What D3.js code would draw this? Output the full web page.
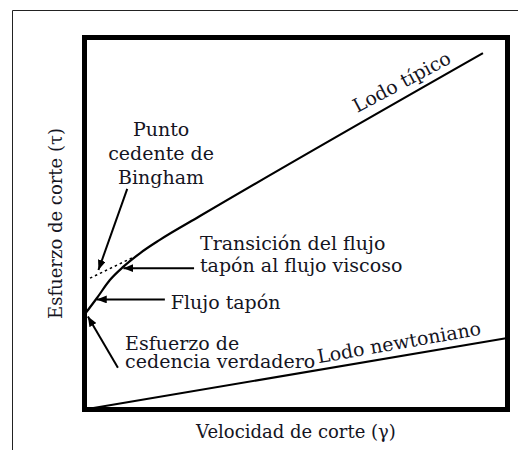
<!DOCTYPE html>
<html>
<head>
<meta charset="utf-8">
<script src="https://cdn.jsdelivr.net/npm/d3@7"></script>
<style>
  body { margin: 0; background: #fff; }
  svg text { font-family: "DejaVu Serif", serif; fill: #15151f; }
</style>
</head>
<body>
<div id="chart-container"></div>
<script>
const width = 518;
const height = 450;
const box = {left: 84.5, right: 507.5, top: 37.5, bottom: 409.5};

// curves, in arbitrary units 0..100 on both axes
const typicalX = [0, 2.9, 6.0, 9.2, 13.1, 17.8, 27.3, 94.2];
const typicalY = [25.5, 29.9, 34.8, 38.4, 42.0, 45.6, 52.0, 95.8];
const binghamX = [1.3, 11.5];
const binghamY = [35.3, 40.9];
const newtonX = [0, 100];
const newtonY = [0, 19.2];

// annotation arrows: [x1, y1, x2, y2] (tail -> head)
const arrows = [
    [10.1, 59.3, 3.3, 37.5],   // Bingham
    [25.9, 38.0, 9.2, 38.0],   // transicion
    [19.0, 29.6, 2.9, 29.6],   // flujo tapon
    [7.9, 11.2, 0.8, 25.0]     // esfuerzo de cedencia
];

// labels: text, x, y, anchor, rotation
const labels = [
    ["Punto", 18.1, 73.5, "middle", 0],
    ["cedente de", 18.1, 67.1, "middle", 0],
    ["Bingham", 18.1, 60.6, "middle", 0],
    ["Transición del flujo", 27.3, 42.9, "start", 0],
    ["tapón al flujo viscoso", 27.3, 37.0, "start", 0],
    ["Flujo tapón", 20.4, 27.0, "start", 0],
    ["Esfuerzo de", 9.6, 16.0, "start", 0],
    ["cedencia verdadero", 9.6, 11.2, "start", 0],
    ["Lodo típico", 64.5, 79.7, "start", -28],
    ["Lodo newtoniano", 55.3, 12.4, "start", -10]
];

const xTitle = "Velocidad de corte (γ)";
const yTitle = "Esfuerzo de corte (τ)";

const x = d3.scaleLinear().domain([0, 100]).range([box.left, box.right]);
const y = d3.scaleLinear().domain([0, 100]).range([box.bottom, box.top]);

const svg = d3.select("#chart-container")
    .append("svg")
    .attr("width", width)
    .attr("height", height);

svg.append("defs").append("marker")
    .attr("id", "head")
    .attr("markerUnits", "userSpaceOnUse")
    .attr("markerWidth", 11)
    .attr("markerHeight", 8)
    .attr("refX", 10)
    .attr("refY", 4)
    .attr("orient", "auto")
    .append("path")
    .attr("d", "M0,0L10,4L0,8Z")
    .attr("fill", "#000");

// outer page frame (top + left only)
svg.append("path")
    .attr("d", `M12.5,${height}V10.5H${width}`)
    .attr("fill", "none")
    .attr("stroke", "#222")
    .attr("stroke-width", 1);

const line = d3.line()
    .x(d => x(d[0]))
    .y(d => y(d[1]));

svg.append("path")
    .datum(d3.zip(typicalX, typicalY))
    .attr("d", line.curve(d3.curveMonotoneX))
    .attr("fill", "none")
    .attr("stroke", "#000")
    .attr("stroke-width", 2.2);

svg.append("path")
    .datum(d3.zip(binghamX, binghamY))
    .attr("d", line.curve(d3.curveLinear))
    .attr("fill", "none")
    .attr("stroke", "#000")
    .attr("stroke-width", 1.5)
    .attr("stroke-dasharray", "2.5,3");

svg.append("path")
    .datum(d3.zip(newtonX, newtonY))
    .attr("d", line)
    .attr("fill", "none")
    .attr("stroke", "#000")
    .attr("stroke-width", 2);

svg.append("g")
    .selectAll("line")
    .data(arrows)
    .join("line")
    .attr("x1", d => x(d[0]))
    .attr("y1", d => y(d[1]))
    .attr("x2", d => x(d[2]))
    .attr("y2", d => y(d[3]))
    .attr("stroke", "#000")
    .attr("stroke-width", 2)
    .attr("marker-end", "url(#head)");

svg.append("g")
    .selectAll("text")
    .data(labels)
    .join("text")
    .attr("transform", d => `translate(${x(d[1])},${y(d[2])}) rotate(${d[4]})`)
    .attr("text-anchor", d => d[3])
    .style("font-size", "19px")
    .text(d => d[0]);

// plot frame
svg.append("rect")
    .attr("x", box.left)
    .attr("y", box.top)
    .attr("width", box.right - box.left)
    .attr("height", box.bottom - box.top)
    .attr("fill", "none")
    .attr("stroke", "#000")
    .attr("stroke-width", 5);

svg.append("text")
    .attr("x", x(50))
    .attr("y", box.bottom + 28)
    .attr("text-anchor", "middle")
    .style("font-size", "18px")
    .text(xTitle);

svg.append("text")
    .attr("transform", `translate(${box.left - 23},${y(50)}) rotate(-90)`)
    .attr("text-anchor", "middle")
    .style("font-size", "18px")
    .text(yTitle);
</script>
</body>
</html>
